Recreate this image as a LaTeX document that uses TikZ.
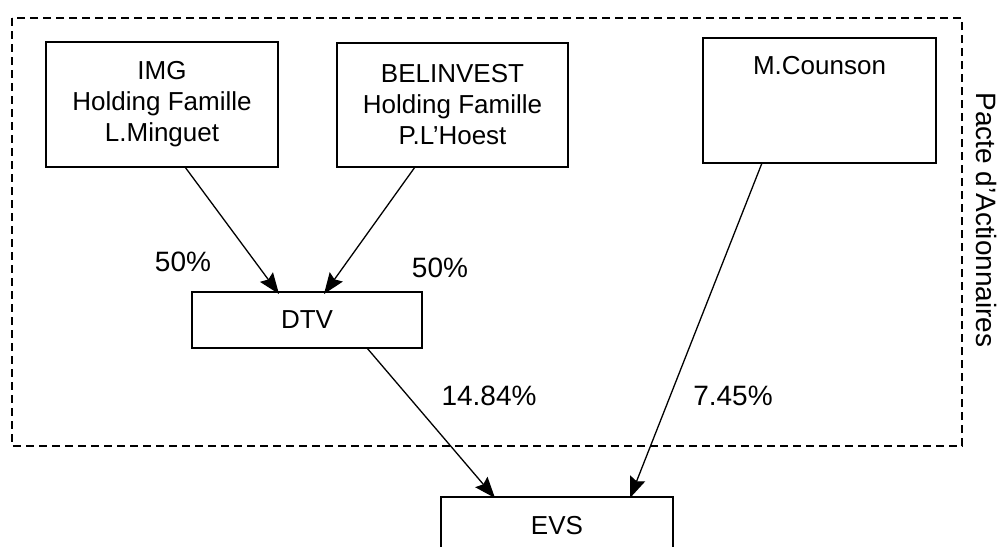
\documentclass[tikz,border=0pt]{standalone}
\usepackage{fontspec}
\setmainfont{Liberation Sans}
\usetikzlibrary{arrows.meta}
\tikzset{
  box/.style={draw, line width=1.6pt, inner sep=0pt, outer sep=0pt, align=center,
    font=\fontsize{26}{31}\selectfont},
  pct/.style={font=\fontsize{28}{32}\selectfont, inner sep=0pt},
  link/.style={line width=1.3pt, -{Stealth[length=21pt,width=16pt,inset=3pt]}},
  pacte/.style={draw, line width=1.5pt, dash pattern=on 8pt off 5pt}
}
\begin{document}
\begin{tikzpicture}[x=1pt,y=-1pt]
\useasboundingbox (0,0) rectangle (1003,546);
\path[clip] (0,0) rectangle (1003,546);
\fill[white] (0,0) rectangle (1003,546);
% dashed shareholder pact frame
\draw[pacte] (12,18) rectangle (962,446);
\node[rotate=-90, font=\fontsize{28}{32}\selectfont, inner sep=0pt] (pactlabel) at (986,220) {Pacte d'Actionnaires};
% boxes
\node[box, minimum width=232pt, minimum height=125pt] (img) at (162,104.5) {IMG\\Holding Famille\\L.Minguet};
\node[box, minimum width=231pt, minimum height=124pt] (bel) at (452.5,105) {BELINVEST\\Holding Famille\\P.L'Hoest};
\node[box, minimum width=233pt, minimum height=125pt] (mc) at (819.5,100.5) {};
\node[font=\fontsize{26}{31}\selectfont, inner sep=0pt] (mctext) at (819.5,66) {M.Counson};
\node[box, minimum width=230pt, minimum height=56pt] (dtv) at (307,320) {DTV};
\node[box, minimum width=232pt, minimum height=57pt] (evs) at (557,525.5) {EVS};
% connectors
\draw[link] ([xshift=23pt]img.south) -- ([xshift=-28pt,yshift=-2pt]dtv.north);
\draw[link] ([xshift=-37.5pt]bel.south) -- ([xshift=17pt,yshift=-2pt]dtv.north);
\draw[link] ([xshift=60pt]dtv.south) -- ([xshift=-62pt,yshift=-1pt]evs.north);
\draw[link] ([xshift=-57.5pt]mc.south) -- ([xshift=73pt,yshift=-1pt]evs.north);
% labels
\node[pct] (p1) at (183,262) {50\%};
\node[pct] (p2) at (440,268) {50\%};
\node[pct] (p3) at (489,396) {14.84\%};
\node[pct] (p4) at (733,396) {7.45\%};
\end{tikzpicture}
\end{document}
